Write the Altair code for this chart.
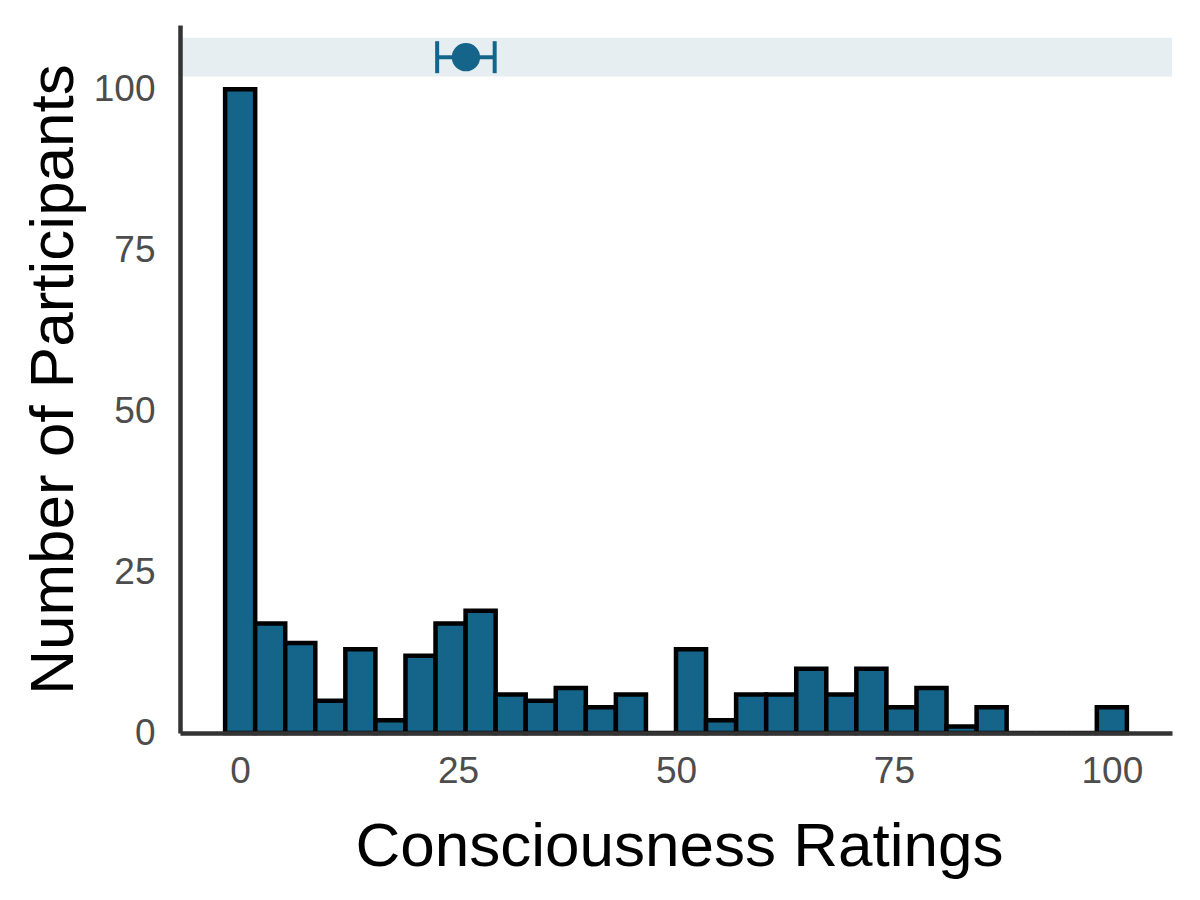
import altair as alt
import pandas as pd

# Histogram counts (30 bins, centred on 0 ... 100)
counts = [100, 17, 14, 5, 13, 2, 12, 17, 19, 6, 5, 7, 4, 6, 0,
          13, 2, 6, 6, 10, 6, 10, 4, 7, 1, 4, 0, 0, 0, 4]
n_bins = 30
bin_width = 100 / (n_bins - 1)

# Mean rating with confidence interval
mean_rating = [25.9]
ci_low = [22.6]
ci_high = [29.2]
mean_y = [105]
band_y = [102]
band_y2 = [108]

x_ticks = [0, 25, 50, 75, 100]
y_ticks = [0, 25, 50, 75, 100]

bars = pd.DataFrame({
    "start": [i * bin_width - bin_width / 2 for i in range(n_bins)],
    "end": [i * bin_width + bin_width / 2 for i in range(n_bins)],
    "count": counts,
})
summary = pd.DataFrame({"mean": mean_rating, "lo": ci_low, "hi": ci_high, "y": mean_y})
band = pd.DataFrame({"y": band_y, "y2": band_y2})

W, H = 992, 708
BLUE = "#156489"
FONT = "Liberation Sans"

xscale = alt.Scale(domain=[-6.9, 106.9], nice=False, zero=False)
yscale = alt.Scale(domain=[0, 110], nice=False)

xaxis = alt.Axis(values=x_ticks, title="Consciousness Ratings", grid=False, ticks=False, tickSize=0,
                 labelFontSize=37, labelColor="#4D4D4D", labelPadding=20, labelFont=FONT,
                 titleFont=FONT, titleFontSize=62, titleFontWeight="normal", titleColor="black",
                 titleX=499, titleY=132, titleBaseline="alphabetic", titleAlign="center",
                 domainColor="#333333", domainWidth=4.5, labelFlush=False, zindex=1)
yaxis = alt.Axis(values=y_ticks, title="Number of Participants", grid=False, ticks=False, tickSize=0,
                 labelFontSize=37, labelColor="#4D4D4D", labelPadding=25, labelFont=FONT,
                 titleFont=FONT, titleFontSize=62, titleFontWeight="normal", titleColor="black",
                 titleX=-108, titleY=354, titleBaseline="alphabetic", titleAlign="center", titleAngle=-90,
                 domainColor="#333333", domainWidth=4.5, labelFlush=False, zindex=1)

band_layer = alt.Chart(band).mark_rect(color="#E6EEF2", opacity=1).encode(
    x=alt.value(0), x2=alt.value(W),
    y=alt.Y("y:Q", scale=yscale, axis=yaxis), y2="y2:Q",
)

bar_layer = alt.Chart(bars).mark_rect(fill=BLUE, stroke="black", strokeWidth=4.5, opacity=1).encode(
    x=alt.X("start:Q", scale=xscale, axis=xaxis),
    x2="end:Q",
    y=alt.Y("count:Q", scale=yscale, axis=yaxis),
    y2=alt.datum(0),
)

err_line = alt.Chart(summary).mark_rule(color=BLUE, strokeWidth=4, opacity=1).encode(
    x=alt.X("lo:Q", scale=xscale), x2="hi:Q", y=alt.Y("y:Q", scale=yscale),
)
cap_lo = alt.Chart(summary).mark_tick(color=BLUE, orient="vertical", size=32, thickness=4, opacity=1).encode(
    x=alt.X("lo:Q", scale=xscale), y=alt.Y("y:Q", scale=yscale),
)
cap_hi = alt.Chart(summary).mark_tick(color=BLUE, orient="vertical", size=32, thickness=4, opacity=1).encode(
    x=alt.X("hi:Q", scale=xscale), y=alt.Y("y:Q", scale=yscale),
)
pt = alt.Chart(summary).mark_point(filled=True, color=BLUE, size=800, opacity=1, shape="circle").encode(
    x=alt.X("mean:Q", scale=xscale), y=alt.Y("y:Q", scale=yscale),
)

chart = alt.layer(band_layer, bar_layer, err_line, cap_lo, cap_hi, pt).properties(
    width=W, height=H,
    autosize=alt.AutoSizeParams(type="none"),
    padding={"left": 172, "top": 17, "right": 10, "bottom": 150},
    view=alt.ViewBackground(stroke="transparent", strokeWidth=0, strokeOpacity=0),
).configure_view(strokeWidth=0, stroke="transparent", strokeOpacity=0).configure(background="white")

chart.save("out.html", embed_options={"renderer": "svg", "actions": False})
